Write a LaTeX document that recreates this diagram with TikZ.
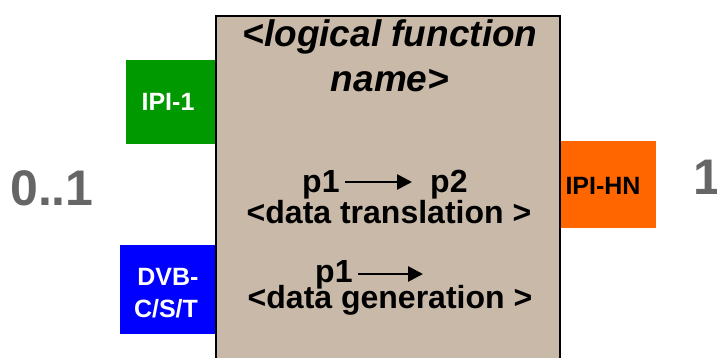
\documentclass[tikz,border=0pt]{standalone}
\usepackage{fontspec}
\setmainfont{Liberation Sans}
\usetikzlibrary{arrows.meta}
\definecolor{tanfill}{RGB}{201,185,168}
\definecolor{ipigreen}{RGB}{0,153,0}
\definecolor{dvbblue}{RGB}{0,0,255}
\definecolor{hnorange}{RGB}{255,102,0}
\definecolor{multgray}{RGB}{102,102,102}
\tikzset{
  txt/.style={inner sep=0pt, anchor=base},
  titlefont/.style={font=\fontsize{37}{37}\selectfont\bfseries\itshape},
  bodyfont/.style={font=\fontsize{32}{32}\selectfont\bfseries},
  portfont/.style={font=\fontsize{25}{25}\selectfont\bfseries},
  multfont/.style={font=\fontsize{50}{50}\selectfont\bfseries, text=multgray},
  flowarrow/.style={line width=2.7pt, -{Triangle[length=15pt,width=15pt]}}
}
\begin{document}
\begin{tikzpicture}[x=1pt,y=-1pt]
\useasboundingbox (0,0) rectangle (717,358);
% ports
\fill[ipigreen] (126,60) rectangle (216,144);
\fill[dvbblue] (120,245) rectangle (216,334);
\fill[hnorange] (560,141) rectangle (656,228);
% main block
\draw[fill=tanfill, line width=1.8pt] (216,16) rectangle (560,380);
% title
\node[txt, titlefont] (t1) at (390,47) {<logical function};
\node[txt, titlefont] (t2) at (390,92) {name>};
% translation
\node[txt, bodyfont, anchor=base west] (p1a) at (302,193) {p1};
\node[txt, bodyfont, anchor=base west] (p2a) at (430,193) {p2};
\coordinate (a1s) at (345,182);
\coordinate (a1e) at (412,182);
\draw[flowarrow] (a1s) -- (a1e);
\node[txt, bodyfont] (dt) at (389,223) {<data translation >};
% generation
\node[txt, bodyfont, anchor=base west] (p1b) at (315,282) {p1};
\coordinate (a2s) at (358,274);
\coordinate (a2e) at (423,274);
\draw[flowarrow] (a2s) -- (a2e);
\node[txt, bodyfont] (dg) at (390,308) {<data generation >};
% port labels
\node[txt, portfont, text=white] (ipi1) at (168,111) {IPI-1};
\node[txt, portfont, text=white] (dvb1) at (168,285) {DVB-};
\node[txt, portfont, text=white] (dvb2) at (166,317) {C/S/T};
\node[txt, portfont, text=black] (ipihn) at (603,195) {IPI-HN};
% multiplicities
\node[txt, multfont, anchor=base west] (m1) at (10,205) {0..1};
\node[txt, multfont, anchor=base west] (m2) at (693,195) {1};
\end{tikzpicture}
\end{document}
